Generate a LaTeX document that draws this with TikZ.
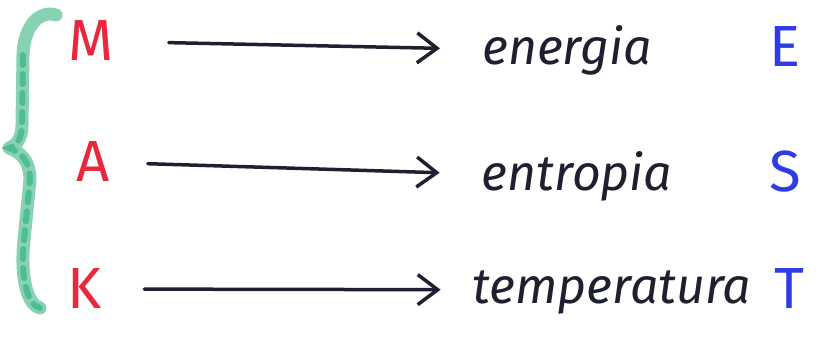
\documentclass[tikz,border=0pt]{standalone}
\usepackage{fontspec}
\setmainfont{Fira Sans}
\usetikzlibrary{arrows.meta, positioning}

\definecolor{markred}{HTML}{E8283C}
\definecolor{markblue}{HTML}{2E3CE6}
\definecolor{markgreen}{HTML}{86D2B2}
\definecolor{markgreendark}{HTML}{4FBC93}
\definecolor{markink}{HTML}{1E2030}

\tikzset{
  quantity/.style={text=markred, font=\fontsize{58}{58}\selectfont, inner sep=0pt},
  symbol/.style={text=markblue, font=\fontsize{58}{58}\selectfont, inner sep=0pt},
  word/.style={text=markink, font=\itshape\fontsize{50}{50}\selectfont, inner sep=0pt,
    text height=26pt, text depth=0pt},
  arrowline/.style={draw=markink, line width=3.5pt, line cap=round,
    -{Straight Barb[length=20pt, width=30pt, line width=3.5pt]}}
}

\begin{document}
\begin{tikzpicture}[x=1pt, y=-1pt]
\useasboundingbox (0,0) rectangle (830,341);

% green brace
\draw[markgreen, line width=13pt, line cap=round, line join=round]
  (56,15) .. controls (40,10) and (24,25) .. (23,55) -- (22,125)
  .. controls (22,140) and (15,146) .. (9,148)
  .. controls (20,152) and (30,160) .. (30,180) -- (24,240)
  .. controls (20,280) and (28,305) .. (40,308);
\draw[markgreendark, line width=6pt, line cap=round, dash pattern=on 10pt off 9pt]
  (23,55) -- (22,125) .. controls (22,140) and (15,146) .. (9,148)
  .. controls (20,152) and (30,160) .. (30,180) -- (24,240)
  .. controls (20,280) and (28,305) .. (40,308);

% letters on the left
\node[quantity] (m) at (91,41) {M};
\node[quantity] (a) at (93,162) {A};
\node[quantity] (k) at (85,289) {K};

% words
\node[word] (energia) at (567,51) {energia};
\node[word] (entropia) at (577,177) {entropia};
\node[word] (temperatura) at (612,290) {temperatura};

% letters on the right
\node[symbol] (e) at (785,47) {E};
\node[symbol] (s) at (785,172) {S};
\node[symbol] (t) at (789,289) {T};

% arrows
\draw[arrowline, shorten <=55pt, shorten >=42pt] (m) -- (energia);
\draw[arrowline, shorten <=38pt, shorten >=42pt] (a) -- (entropia);
\draw[arrowline, shorten <=42pt, shorten >=32pt] (k) -- (temperatura);

\end{tikzpicture}
\end{document}
